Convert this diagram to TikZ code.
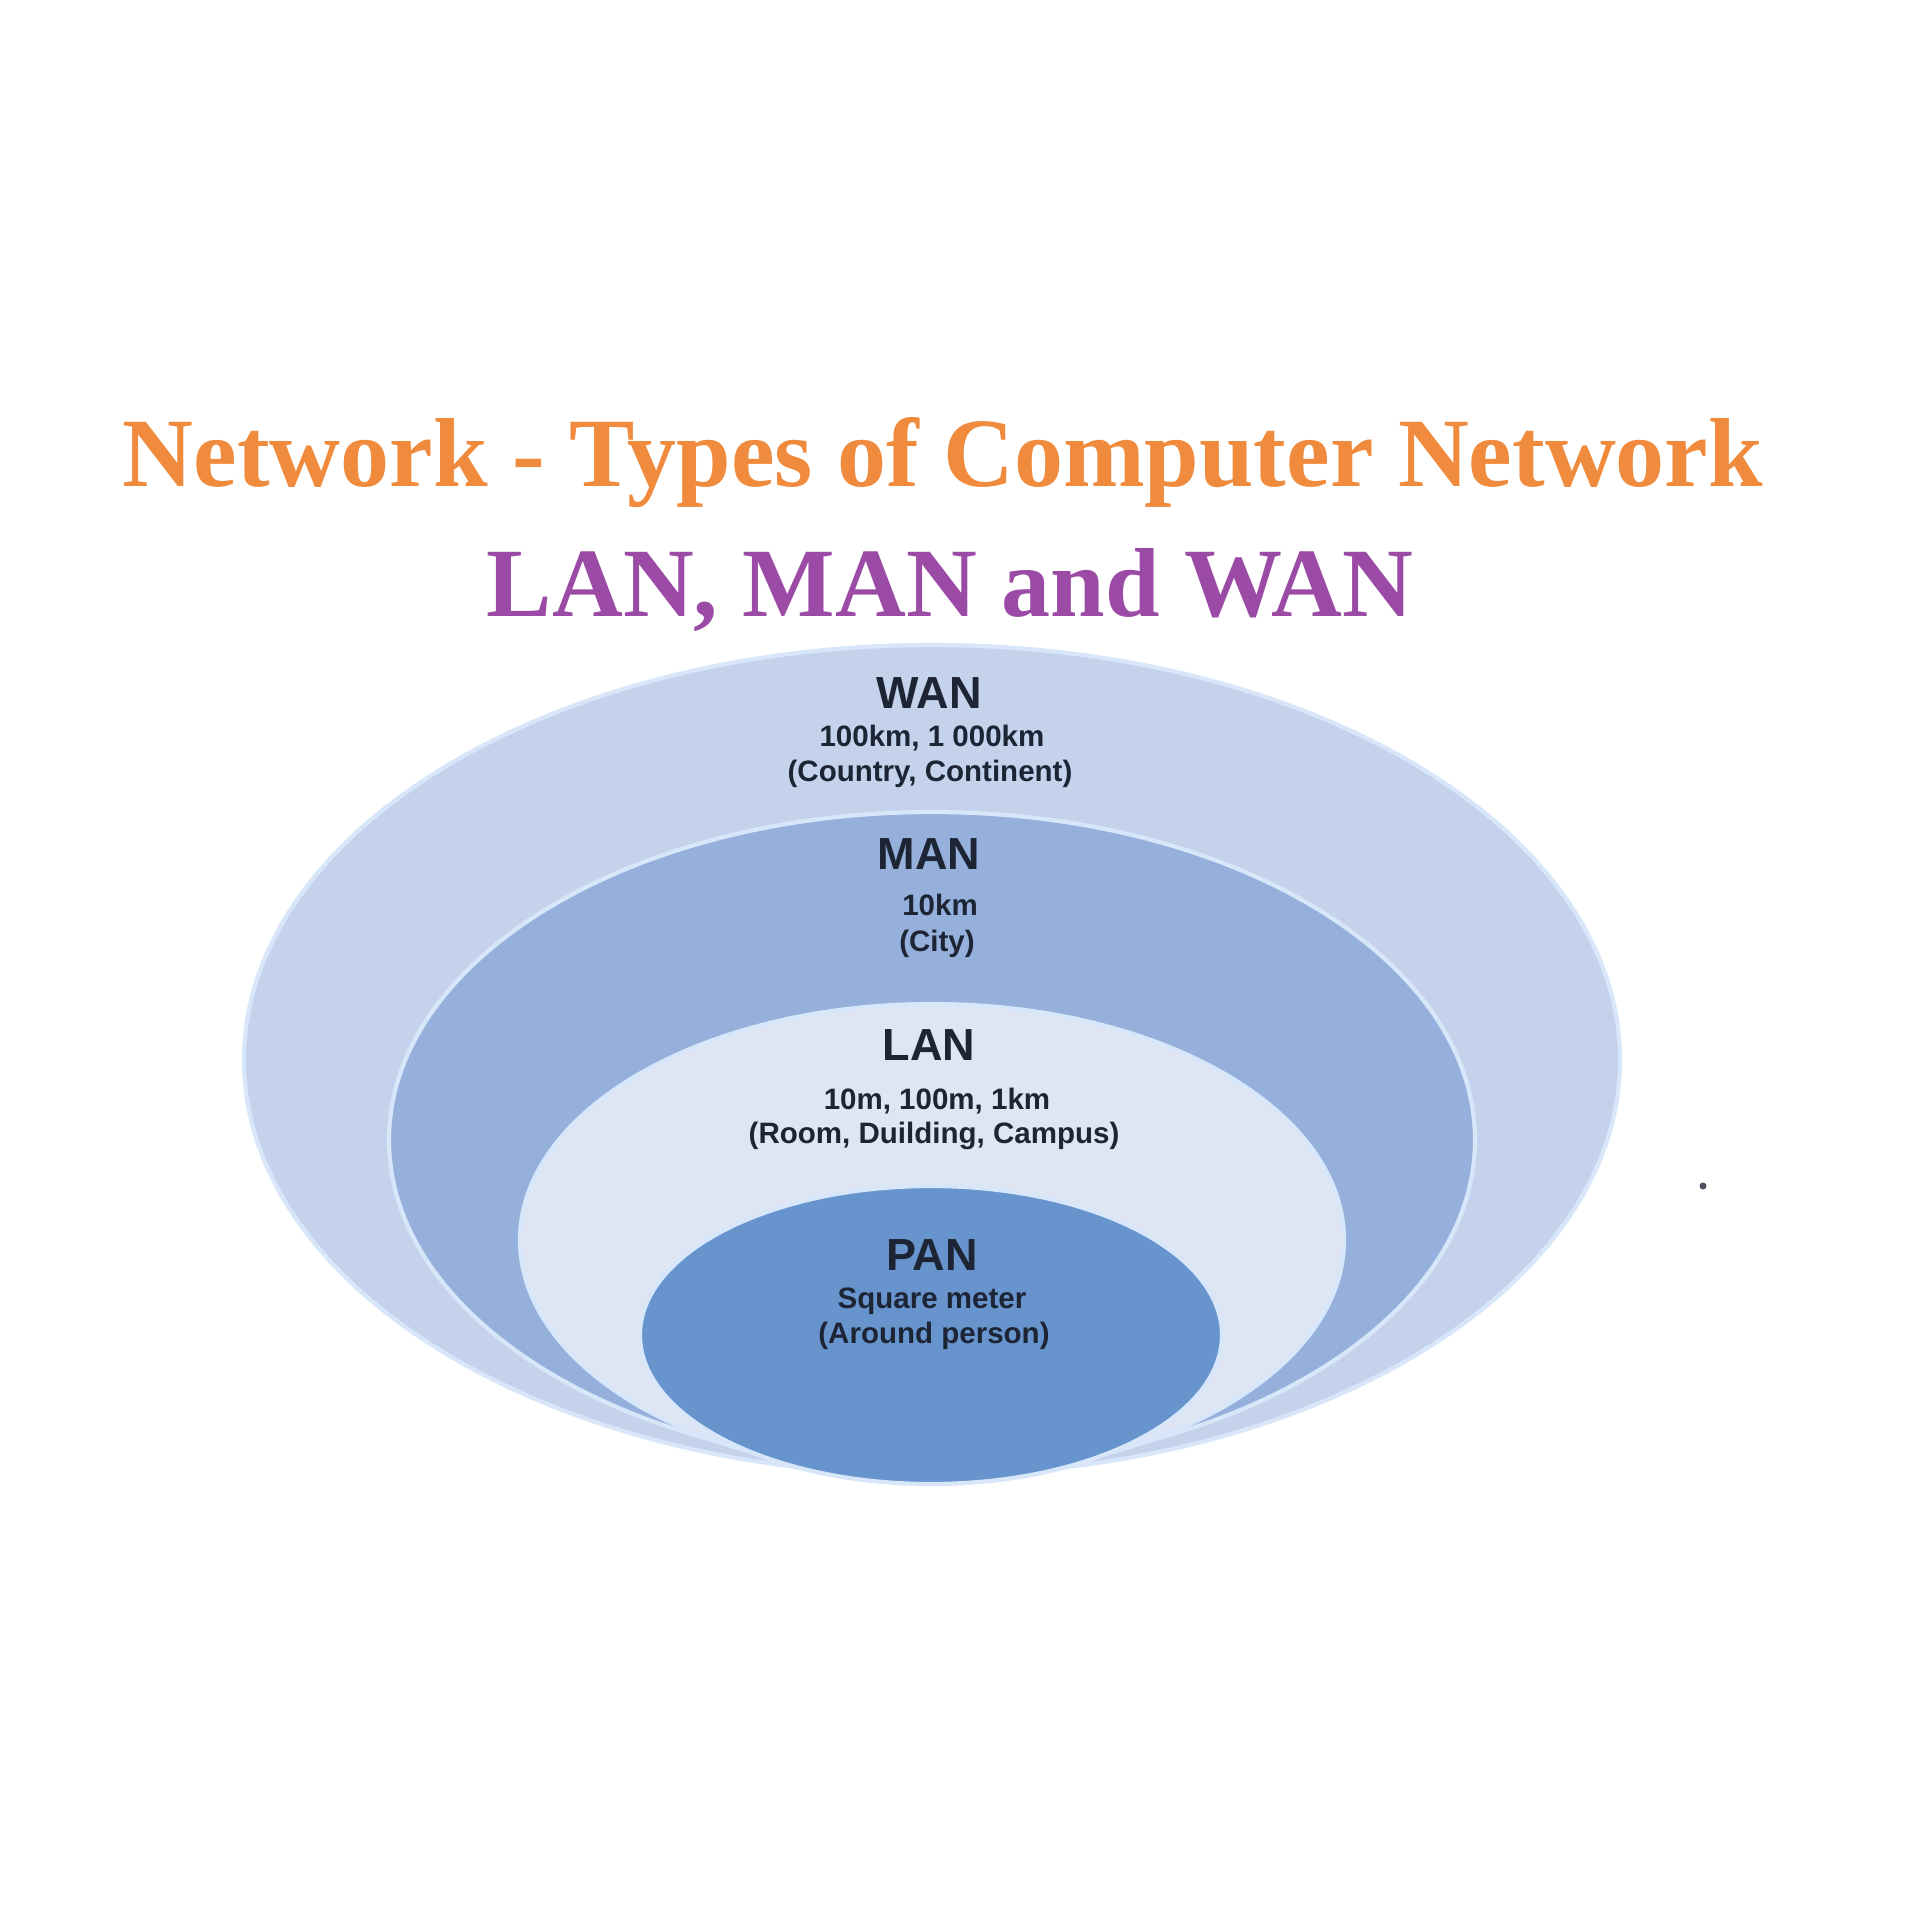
\documentclass[tikz,border=0pt]{standalone}
\usepackage{fontspec}
\setmainfont{Liberation Serif}
\newfontfamily\netfont{Liberation Sans}
\usepackage{tikz}
\definecolor{titleorange}{HTML}{F08A3C}
\definecolor{titlepurple}{HTML}{9B4BA5}
\definecolor{wanblue}{HTML}{C4D2EB}
\definecolor{manblue}{HTML}{94B0DB}
\definecolor{lanblue}{HTML}{DFE6F3}
\definecolor{panblue}{HTML}{6794CD}
\definecolor{edgeblue}{HTML}{D8E6FA}
\definecolor{labeltext}{HTML}{1D2535}

\begin{document}
\begin{tikzpicture}[
		headline/.style={anchor=base, inner sep=0pt, font=\bfseries\fontsize{27.9}{30}\selectfont},
		layername/.style={anchor=base, inner sep=0pt, text=labeltext, font=\netfont\bfseries\fontsize{12.8}{14}\selectfont},
		layerinfo/.style={anchor=base, inner sep=0pt, text=labeltext, font=\netfont\bfseries\fontsize{8.4}{10}\selectfont},
		layer/.style={draw=edgeblue, line width=1.2pt}
	]
		% Page size and background
		\useasboundingbox (0,0) rectangle (19.2,-19.2);
		\fill[white] (0,0) rectangle (19.2,-19.2);
		
		% Heading
		\node[headline, text=titleorange] (title) at (9.43,-4.86) {Network - Types of Computer Network};
		\node[headline, text=titlepurple] (subtitle) at (9.50,-6.16) {LAN, MAN and WAN};
		
		% --- THE NESTED AREAS ---
		% Outermost first, every one touches the bottom
		\filldraw[layer, fill=wanblue] (9.32,-10.60) ellipse (6.88 and 4.15);
		\filldraw[layer, fill=manblue] (9.32,-11.40) ellipse (5.43 and 3.28);
		\filldraw[layer, fill=lanblue] (9.32,-12.40) ellipse (4.12 and 2.36);
		\filldraw[layer, fill=panblue] (9.31,-13.35) ellipse (2.91 and 1.49);
		
		% Labels of the areas
		\node[layername] (wan) at (9.29,-7.08) {WAN};
		\node[layerinfo] (wanrange) at (9.32,-7.46) {100km, 1 000km};
		\node[layerinfo] (wanplace) at (9.30,-7.81) {(Country, Continent)};
		
		\node[layername] (man) at (9.29,-8.69) {MAN};
		\node[layerinfo] (manrange) at (9.40,-9.15) {10km};
		\node[layerinfo] (manplace) at (9.37,-9.51) {(City)};
		
		\node[layername] (lan) at (9.29,-10.60) {LAN};
		\node[layerinfo] (lanrange) at (9.37,-11.09) {10m, 100m, 1km};
		\node[layerinfo] (lanplace) at (9.34,-11.43) {(Room, Duilding, Campus)};
		
		\node[layername] (pan) at (9.32,-12.70) {PAN};
		\node[layerinfo] (panrange) at (9.32,-13.08) {Square meter};
		\node[layerinfo] (panplace) at (9.34,-13.43) {(Around person)};
		
		% stray dot on the right
		\fill[labeltext!80] (17.03,-11.86) circle (1pt);
	\end{tikzpicture}
\end{document}
